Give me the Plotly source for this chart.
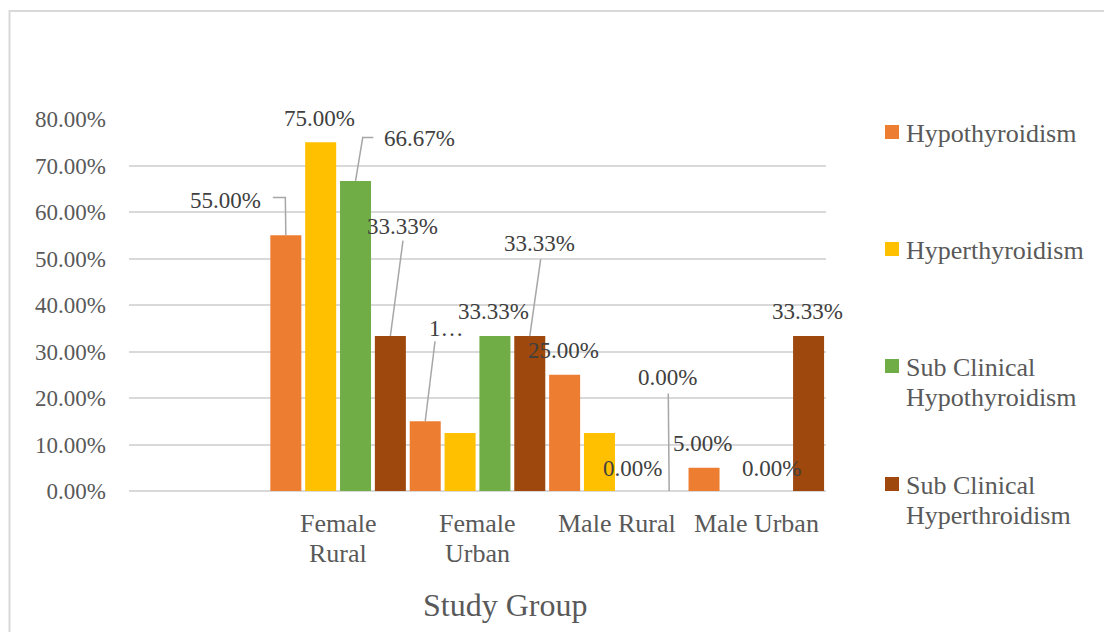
import plotly.graph_objects as go

# ---- data -------------------------------------------------------------
groups = ["Female Rural", "Female Urban", "Male Rural", "Male Urban"]
group_lines = [["Female", "Rural"], ["Female", "Urban"], ["Male Rural"], ["Male Urban"]]

series_names = ["Hypothyroidism", "Hyperthyroidism",
                "Sub Clinical Hypothyroidism", "Sub Clinical Hyperthroidism"]
legend_lines = [["Hypothyroidism"], ["Hyperthyroidism"],
                ["Sub Clinical", "Hypothyroidism"], ["Sub Clinical", "Hyperthroidism"]]

hypo = [55.00, 15.00, 25.00, 5.00]
hyper = [75.00, 12.50, 12.50, 0.00]
sub_hypo = [66.67, 33.33, 0.00, 0.00]
sub_hyper = [33.33, 33.33, 0.00, 33.33]
series_values = [hypo, hyper, sub_hypo, sub_hyper]

y_tick_values = [0, 10, 20, 30, 40, 50, 60, 70, 80]
y_tick_labels = [f"{v:.2f}%" for v in y_tick_values]

# ---- styling ----------------------------------------------------------
colors = ["#ED7D31", "#FFC000", "#70AD47", "#9E480E"]
FONT = "Liberation Serif"
TXT = "#595959"
LBL = "#404040"
GRID = "#D9D9D9"

W, H = 1104, 632
PL, PR, PT, PB = 129, 826, 119, 491
X_RANGE = [-1.5, 3.5]
Y_RANGE = [0, 80]
PX_X = (PR - PL) / (X_RANGE[1] - X_RANGE[0])
PX_Y = (PB - PT) / (Y_RANGE[1] - Y_RANGE[0])
N = len(series_names)
SLOT = 1.0 / N

# label placement (pixel offset of label centre from bar top); None = hidden
label_offsets = [
    [(-60, -35), (21.5, -93), (-1, -24), (-2, -24)],
    [(-1, -24), None, None, None],
    [(63.5, -42), (-1.5, -24.5), (-2, -23), (-2, -23)],
    [(12, -110), (10, -93), (-2, -113.5), (-1.5, -25)],
]
truncated = {(0, 1)}
# leader lines: pixel points relative to bar top (right/down positive)
leaders = {
    (0, 0): [(-13, -37.7), (-0.5, -37.7), (0, 0)],
    (2, 0): [(17.8, -43.4), (7.2, -43.4), (0, 0)],
    (3, 0): [(12.6, -95.3), (0, 0)],
    (0, 1): [(9.8, -80), (0, 0)],
    (3, 1): [(10.9, -77), (0, 0)],
    (3, 2): [(-0.9, -97.5), (0, 0)],
}


def px_to_paper_x(px):
    return (px - PL) / (PR - PL)


def px_to_paper_y(py):
    return (PB - py) / (PB - PT)


fig = go.Figure()
x_idx = list(range(len(groups)))
for s, (name, vals) in enumerate(zip(series_names, series_values)):
    fig.add_trace(go.Bar(
        x=x_idx, y=vals, name=name,
        marker=dict(color=colors[s], line=dict(width=0)),
        showlegend=False,
    ))

annotations = []
shapes = []

# data labels and leader lines
for s, vals in enumerate(series_values):
    for g, v in enumerate(vals):
        off = label_offsets[s][g]
        if off is None:
            continue
        xc = g + (s - (N - 1) / 2) * SLOT
        text = f"{v:.2f}%"
        if (s, g) in truncated:
            text = text[0] + "…"
        annotations.append(dict(
            x=xc, y=v, xref="x", yref="y", text=text, showarrow=False,
            xshift=off[0], yshift=-off[1], xanchor="center", yanchor="middle",
            font=dict(family=FONT, size=23, color=LBL),
        ))
        if (s, g) in leaders:
            pts = [(xc + dx / PX_X, v - dy / PX_Y) for dx, dy in leaders[(s, g)]]
            path = "M " + " L ".join(f"{x},{y}" for x, y in pts)
            shapes.append(dict(type="path", xref="x", yref="y", path=path,
                               line=dict(color="#A6A6A6", width=1.5)))

# category labels
for g, lines in enumerate(group_lines):
    for i, line in enumerate(lines):
        annotations.append(dict(
            x=g, y=px_to_paper_y(523 + 30 * i), xref="x", yref="paper",
            text=line, showarrow=False, xanchor="center", yanchor="middle",
            font=dict(family=FONT, size=26, color=TXT),
        ))

# axis title
annotations.append(dict(
    x=px_to_paper_x(505), y=px_to_paper_y(605), xref="paper", yref="paper",
    text="Study Group", showarrow=False, xanchor="center", yanchor="middle",
    font=dict(family=FONT, size=32, color=TXT),
))

# legend
legend_y = [132, 249, 366, 484]
for s, lines in enumerate(legend_lines):
    yc = legend_y[s]
    shapes.append(dict(type="rect", xref="paper", yref="paper",
                       x0=px_to_paper_x(885), x1=px_to_paper_x(899),
                       y0=px_to_paper_y(yc - 7), y1=px_to_paper_y(yc + 7),
                       fillcolor=colors[s], line=dict(width=0)))
    for i, line in enumerate(lines):
        annotations.append(dict(
            x=px_to_paper_x(904), y=px_to_paper_y(yc + 1 + 30 * i),
            xref="paper", yref="paper", text=line, showarrow=False,
            xanchor="left", yanchor="middle",
            font=dict(family=FONT, size=26, color=TXT),
        ))

# chart frame (left and top edges)
shapes.append(dict(
    type="path", xref="paper", yref="paper",
    path=(f"M {px_to_paper_x(9.5)},{px_to_paper_y(640)} "
          f"L {px_to_paper_x(9.5)},{px_to_paper_y(11)} "
          f"L {px_to_paper_x(1110)},{px_to_paper_y(11)}"),
    line=dict(color=GRID, width=2),
))

fig.update_layout(
    width=W, height=H,
    margin=dict(l=PL, r=W - PR, t=PT, b=H - PB, pad=0),
    paper_bgcolor="white", plot_bgcolor="white",
    barmode="group", bargap=0, bargroupgap=0.11,
    font=dict(family=FONT, color=TXT),
    xaxis=dict(range=X_RANGE, showticklabels=False, showgrid=False,
               zeroline=False, showline=False, ticks="", fixedrange=True),
    yaxis=dict(range=Y_RANGE, tickmode="array", tickvals=y_tick_values,
               ticktext=y_tick_labels, showgrid=True, gridcolor=GRID,
               gridwidth=1.5, zeroline=True, zerolinecolor=GRID,
               zerolinewidth=1.5, showline=False, ticks="",
               ticklabelstandoff=22,
               tickfont=dict(family=FONT, size=23, color=TXT)),
    annotations=annotations,
    shapes=shapes,
    showlegend=False,
)

fig.write_html("out.html")
